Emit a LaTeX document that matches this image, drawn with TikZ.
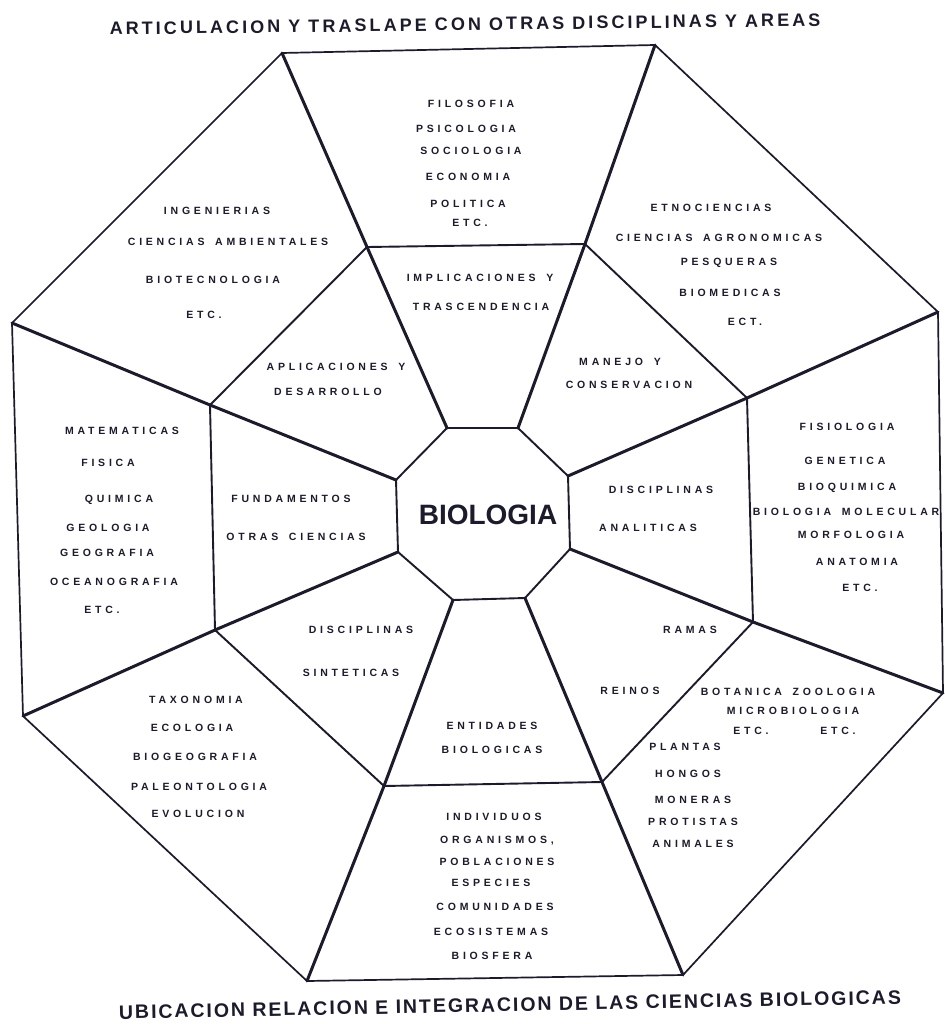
\documentclass[tikz,border=0pt]{standalone}
\usepackage{fontspec}
\usepackage{tikz}
\setmainfont{Liberation Sans}
\newfontfamily\lettering[LetterSpace=36,WordSpace=1.6]{Liberation Sans}
\newfontfamily\headtop[LetterSpace=17]{Liberation Sans}
\newfontfamily\headbottom[LetterSpace=10]{Liberation Sans}
\definecolor{ink}{HTML}{1B1B2B}

\begin{document}
\begin{tikzpicture}[x=1pt,y=-1pt,
	spoke/.style={draw=ink,line width=3pt,line cap=round},
	ring/.style={draw=ink,line width=1.9pt,line join=round},
	rim/.style={draw=ink,line width=1.7pt,line join=round},
	lbl/.style={text=ink,inner sep=0pt,text height=7.5pt,text depth=0pt,
		font=\lettering\bfseries\fontsize{10.5}{12}\selectfont},
	ttl/.style={text=ink,inner sep=0pt,text height=13pt,text depth=0pt}]
	\fill[white] (0,0) rectangle (944,1024);
	\useasboundingbox (0,0) rectangle (944,1024);

	\coordinate (c1) at (447, 428);
	\coordinate (c2) at (518, 428);
	\coordinate (c3) at (568, 476);
	\coordinate (c4) at (570, 549);
	\coordinate (c5) at (525, 598);
	\coordinate (c6) at (453, 600);
	\coordinate (c7) at (398, 552);
	\coordinate (c8) at (396, 480);

	\coordinate (m1) at (367, 247);
	\coordinate (m2) at (585, 244);
	\coordinate (m3) at (747, 398);
	\coordinate (m4) at (753, 622);
	\coordinate (m5) at (602, 782);
	\coordinate (m6) at (384, 786);
	\coordinate (m7) at (215, 630);
	\coordinate (m8) at (210, 405);

	\coordinate (o1) at (282, 53);
	\coordinate (o2) at (655, 45);
	\coordinate (o3) at (938, 312);
	\coordinate (o4) at (943, 693);
	\coordinate (o5) at (683, 975);
	\coordinate (o6) at (307, 981);
	\coordinate (o7) at (23, 716);
	\coordinate (o8) at (12, 323);

	\node[ttl,rotate=0.7,font=\headtop\bfseries\fontsize{18}{20}\selectfont] (articulacion) at (465, 24) {ARTICULACION Y TRASLAPE CON OTRAS DISCIPLINAS Y AREAS};
	\node[ttl,rotate=1.1,font=\headbottom\bfseries\fontsize{19.5}{22}\selectfont] (ubicacion) at (510, 1005) {UBICACION RELACION E INTEGRACION DE LAS CIENCIAS BIOLOGICAS};

	\node[text=ink,inner sep=0pt,font=\bfseries\fontsize{28}{30}\selectfont] (bio) at (488, 515) {BIOLOGIA};

	\node[lbl] (filosofia) at (471, 104) {FILOSOFIA};
	\node[lbl] (psicologia) at (466, 129) {PSICOLOGIA};
	\node[lbl] (sociologia) at (471, 151) {SOCIOLOGIA};
	\node[lbl] (economia) at (468, 177) {ECONOMIA};
	\node[lbl] (politica) at (468, 204) {POLITICA};
	\node[lbl] (etcA) at (470, 223) {ETC.};
	\node[lbl] (implicaciones) at (480, 278) {IMPLICACIONES Y};
	\node[lbl] (trascendencia) at (481, 307) {TRASCENDENCIA};

	\node[lbl] (ingenierias) at (217, 211) {INGENIERIAS};
	\node[lbl] (ambientales) at (228, 242) {CIENCIAS AMBIENTALES};
	\node[lbl] (biotecnologia) at (213, 280) {BIOTECNOLOGIA};
	\node[lbl] (etcB) at (204, 315) {ETC.};
	\node[lbl] (aplicaciones) at (336, 367) {APLICACIONES Y};
	\node[lbl] (desarrollo) at (328, 392) {DESARROLLO};

	\node[lbl] (etnociencias) at (711, 208) {ETNOCIENCIAS};
	\node[lbl] (agronomicas) at (719, 238) {CIENCIAS AGRONOMICAS};
	\node[lbl] (pesqueras) at (729, 262) {PESQUERAS};
	\node[lbl] (biomedicas) at (730, 293) {BIOMEDICAS};
	\node[lbl] (ect) at (745, 322) {ECT.};
	\node[lbl] (manejo) at (620, 362) {MANEJO Y};
	\node[lbl] (conservacion) at (629, 385) {CONSERVACION};

	\node[lbl] (matematicas) at (122, 431) {MATEMATICAS};
	\node[lbl] (fisica) at (108, 463) {FISICA};
	\node[lbl] (quimica) at (119, 499) {QUIMICA};
	\node[lbl] (geologia) at (108, 528) {GEOLOGIA};
	\node[lbl] (geografia) at (107, 553) {GEOGRAFIA};
	\node[lbl] (oceanografia) at (114, 582) {OCEANOGRAFIA};
	\node[lbl] (etcC) at (102, 610) {ETC.};
	\node[lbl] (fundamentos) at (291, 499) {FUNDAMENTOS};
	\node[lbl] (otras) at (296, 537) {OTRAS CIENCIAS};

	\node[lbl] (discA) at (661, 490) {DISCIPLINAS};
	\node[lbl] (analiticas) at (648, 528) {ANALITICAS};
	\node[lbl] (fisiologia) at (847, 427) {FISIOLOGIA};
	\node[lbl] (genetica) at (845, 461) {GENETICA};
	\node[lbl] (bioquimica) at (847, 487) {BIOQUIMICA};
	\node[lbl] (biomol) at (846, 512) {BIOLOGIA MOLECULAR};
	\node[lbl] (morfologia) at (851, 535) {MORFOLOGIA};
	\node[lbl] (anatomia) at (857, 562) {ANATOMIA};
	\node[lbl] (etcD) at (860, 588) {ETC.};

	\node[lbl] (discB) at (361, 630) {DISCIPLINAS};
	\node[lbl] (sinteticas) at (351, 673) {SINTETICAS};
	\node[lbl] (taxonomia) at (196, 700) {TAXONOMIA};
	\node[lbl] (ecologia) at (192, 728) {ECOLOGIA};
	\node[lbl] (biogeografia) at (195, 757) {BIOGEOGRAFIA};
	\node[lbl] (paleontologia) at (199, 787) {PALEONTOLOGIA};
	\node[lbl] (evolucion) at (198, 814) {EVOLUCION};

	\node[lbl] (ramas) at (690, 630) {RAMAS};
	\node[lbl] (reinos) at (630, 691) {REINOS};
	\node[lbl] (botzoo) at (788, 692) {BOTANICA ZOOLOGIA};
	\node[lbl] (micro) at (793, 711) {MICROBIOLOGIA};
	\node[lbl] (etcE) at (751, 731) {ETC.};
	\node[lbl] (etcF) at (838, 731) {ETC.};
	\node[lbl] (plantas) at (685, 747) {PLANTAS};
	\node[lbl] (hongos) at (688, 774) {HONGOS};
	\node[lbl] (moneras) at (693, 800) {MONERAS};
	\node[lbl] (protistas) at (693, 822) {PROTISTAS};
	\node[lbl] (animales) at (693, 844) {ANIMALES};

	\node[lbl] (entidades) at (492, 726) {ENTIDADES};
	\node[lbl] (biologicas) at (492, 750) {BIOLOGICAS};
	\node[lbl] (individuos) at (494, 817) {INDIVIDUOS};
	\node[lbl] (organismos) at (497, 840) {ORGANISMOS,};
	\node[lbl] (poblaciones) at (497, 862) {POBLACIONES};
	\node[lbl] (especies) at (491, 883) {ESPECIES};
	\node[lbl] (comunidades) at (495, 907) {COMUNIDADES};
	\node[lbl] (ecosistemas) at (491, 932) {ECOSISTEMAS};
	\node[lbl] (biosfera) at (492, 956) {BIOSFERA};

	\draw[rim] (o1) -- (o2) -- (o3) -- (o4) -- (o5) -- (o6) -- (o7) -- (o8) -- cycle;
	\draw[ring] (m1) -- (m2) -- (m3) -- (m4) -- (m5) -- (m6) -- (m7) -- (m8) -- cycle;
	\draw[ring] (c1) -- (c2) -- (c3) -- (c4) -- (c5) -- (c6) -- (c7) -- (c8) -- cycle;
	\foreach \i in {1,...,8}
		\draw[spoke] (c\i) -- (m\i) -- (o\i);

\end{tikzpicture}
\end{document}
